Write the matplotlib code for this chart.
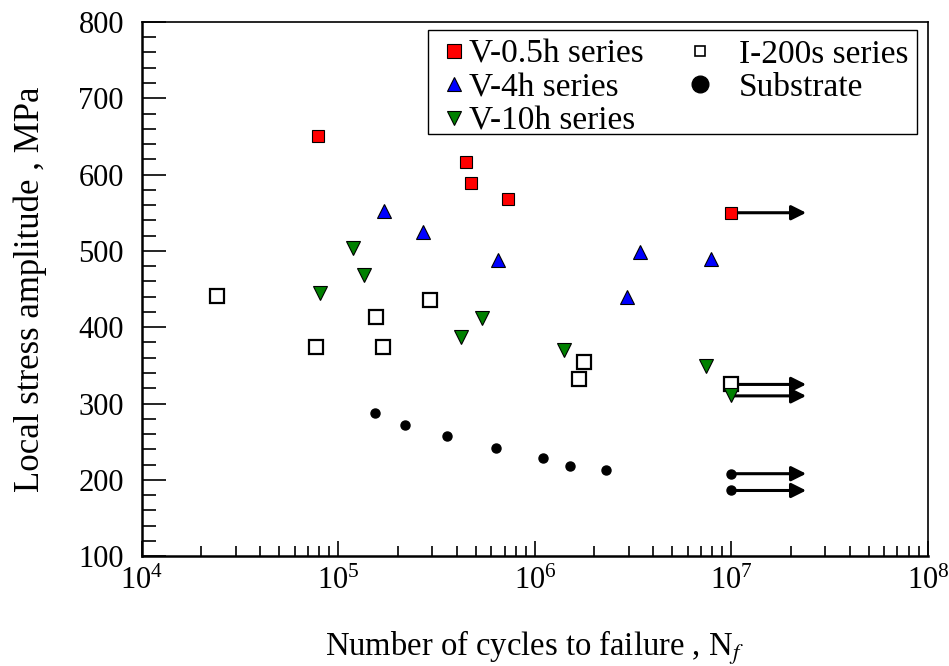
import numpy as np
import matplotlib.pyplot as plt
from matplotlib.lines import Line2D
from matplotlib.patches import Rectangle

plt.rcParams['font.family'] = ['Liberation Serif', 'DejaVu Serif']
plt.rcParams['mathtext.fontset'] = 'stix'

# data (cycles to failure, local stress amplitude in MPa)
v05_N = [7.9e4, 4.48e5, 4.7e5, 7.26e5, 1.0e7]
v05_S = [650, 616, 589, 568, 550]

v4_N = [1.71e5, 2.7e5, 6.47e5, 3.43e6, 2.94e6, 7.85e6]
v4_S = [552, 525, 488, 499, 440, 489]

v10_N = [1.18e5, 1.35e5, 8.1e4, 5.38e5, 4.19e5, 1.4e6, 7.45e6, 1.0e7]
v10_S = [504, 469, 445, 412, 387, 370, 349, 311]

i200_N = [2.42e4, 7.7e4, 1.56e5, 1.68e5, 2.91e5, 1.77e6, 1.67e6, 1.0e7]
i200_S = [441, 374, 414, 374, 435, 355, 332, 325]

sub_N = [1.53e5, 2.19e5, 3.56e5, 6.33e5, 1.1e6, 1.51e6, 2.3e6, 1.0e7, 1.0e7]
sub_S = [288, 272, 258, 242, 228, 218, 213, 208, 186]

# run-outs (no failure at 1e7 cycles)
runout_N = 1.0e7
runout_end = 2.4e7
runout_S = [550, 325, 310, 208, 186]

fig = plt.figure(figsize=(9.49, 6.66), dpi=100)
ax = fig.add_axes([0.1496, 0.165, 0.8282, 0.802])

ax.plot(v05_N, v05_S, 's', ms=9, mfc='red', mec='black', mew=0.8, zorder=4)
ax.plot(v4_N, v4_S, '^', ms=10, mfc='blue', mec='black', mew=0.8, zorder=4)
ax.plot(i200_N, i200_S, 's', ms=10.5, mfc='white', mec='black', mew=1.6, zorder=3)
ax.plot(v10_N, v10_S, 'v', ms=10.5, mfc='green', mec='black', mew=0.8, zorder=5)
ax.plot(sub_N, sub_S, 'o', ms=6.5, mfc='black', mec='black', zorder=4)

for s in runout_S:
    ax.annotate('', xy=(runout_end, s), xytext=(runout_N, s),
                arrowprops=dict(arrowstyle='-|>', color='black', lw=2.2,
                                mutation_scale=22, shrinkA=0, shrinkB=0),
                zorder=2)

ax.set_xscale('log')
ax.set_xlim(1e4, 1e8)
ax.set_ylim(100, 800)
ax.set_yticks(np.arange(100, 801, 100))
ax.set_yticks(np.arange(100, 801, 20), minor=True)

ax.tick_params(axis='both', which='both', direction='in', top=False, right=False,
               labelsize=22, width=1.2)
ax.tick_params(axis='x', which='major', length=11, pad=8)
ax.tick_params(axis='x', which='minor', length=7)
ax.tick_params(axis='y', which='major', length=17, pad=13)
ax.tick_params(axis='y', which='minor', length=10)
for sp in ax.spines.values():
    sp.set_linewidth(1.2)
ax.spines['bottom'].set_linewidth(1.8)
ax.spines['left'].set_linewidth(1.8)

ax.set_xlabel('Number of cycles to failure , N$_f$', fontsize=23.5)
ax.set_ylabel('Local stress amplitude , MPa', fontsize=25)
ax.xaxis.set_label_coords(0.5, -0.135)
ax.yaxis.set_label_coords(-0.1206, 0.5)

# legend: two columns in one frame
col1 = [Line2D([], [], ls='', marker='s', ms=10, mfc='red', mec='black', mew=0.8),
        Line2D([], [], ls='', marker='^', ms=10, mfc='blue', mec='black', mew=0.8),
        Line2D([], [], ls='', marker='v', ms=10, mfc='green', mec='black', mew=0.8)]
col2 = [Line2D([], [], ls='', marker='s', ms=7.5, mfc='white', mec='black', mew=1.2),
        Line2D([], [], ls='', marker='o', ms=12, mfc='black', mec='black')]
kw = dict(loc='upper left', fontsize=24, frameon=False, borderpad=0, borderaxespad=0,
          labelspacing=0.09, handlelength=0.5)
leg1 = ax.legend(col1, ['V-0.5h series', 'V-4h series', 'V-10h series'],
                 bbox_to_anchor=(0.3858, 0.968), handletextpad=0.22, **kw)
ax.add_artist(leg1)
ax.legend(col2, ['I-200s series', 'Substrate'],
          bbox_to_anchor=(0.6992, 0.968), handletextpad=0.92, **kw)
ax.add_patch(Rectangle((0.3642, 0.7903), 0.6218, 0.1948, transform=ax.transAxes,
                       fill=True, facecolor='white', edgecolor='black', lw=1.0, zorder=1))

fig.savefig('out.png', dpi=100)
